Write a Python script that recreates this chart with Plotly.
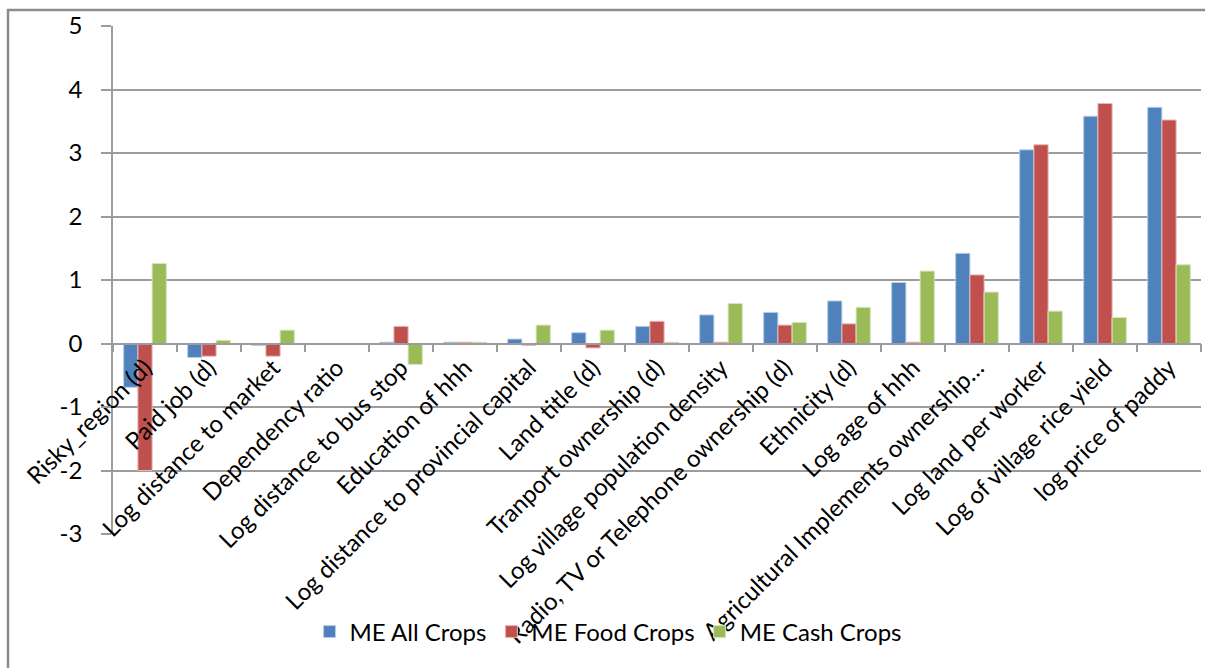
import plotly.graph_objects as go

# Marginal effects by household / village variable
categories = [
    "Risky_region (d)",
    "Paid job (d)",
    "Log distance to market",
    "Dependency ratio",
    "Log distance to bus stop",
    "Education of hhh",
    "Log distance to provincial capital",
    "Land title (d)",
    "Tranport ownership (d)",
    "Log village population density",
    "Radio, TV or Telephone ownership (d)",
    "Ethnicity (d)",
    "Log age of hhh",
    "Agricultural Implements ownership…",
    "Log land per worker",
    "Log of village rice yield",
    "log price of paddy",
]

me_all_crops = [-0.69, -0.22, -0.03, 0.0, 0.02, 0.02, 0.07, 0.17, 0.27, 0.45,
                0.49, 0.67, 0.96, 1.42, 3.05, 3.58, 3.72]
me_food_crops = [-2.0, -0.20, -0.20, 0.0, 0.27, 0.02, -0.03, -0.07, 0.35, 0.02,
                 0.29, 0.31, 0.02, 1.08, 3.13, 3.78, 3.52]
me_cash_crops = [1.26, 0.05, 0.21, 0.0, -0.33, 0.02, 0.29, 0.21, 0.02, 0.63,
                 0.33, 0.57, 1.14, 0.81, 0.51, 0.41, 1.24]

series_names = ["ME All Crops", "ME Food Crops", "ME Cash Crops"]
series_values = [me_all_crops, me_food_crops, me_cash_crops]
series_colors = ["#4F81BD", "#C0504D", "#9BBB59"]
line_colors = ["#B9CDE5", "#E6B9B8", "#D7E4BD"]

y_ticks = [-3, -2, -1, 0, 1, 2, 3, 4, 5]
y_tick_text = ["-3", "-2", "-1", "0", "1", "2", "3", "4", "5"]

FONT = "Lato, 'Open Sans', sans-serif"
GRID = "#9C9C9C"

fig = go.Figure()
for name, vals, col, lcol in zip(series_names, series_values, series_colors, line_colors):
    fig.add_trace(go.Bar(
        x=categories, y=vals, name=name,
        marker=dict(color=col, line=dict(color=lcol, width=1)),
    ))

W, H = 1205, 668
L, R, T, B = 113, 4, 26, 134
plot_h = H - T - B

fig.update_layout(
    width=W, height=H,
    margin=dict(l=L, r=R, t=T, b=B, autoexpand=False),
    paper_bgcolor="white", plot_bgcolor="white",
    barmode="group", bargap=0.333, bargroupgap=0,
    font=dict(family=FONT, size=24, color="#000000"),
    showlegend=True,
    legend=dict(
        orientation="h", x=0.455, xanchor="center",
        y=(T + plot_h - 632) / plot_h, yanchor="middle",
        bgcolor="rgba(0,0,0,0)", font=dict(size=24),
        itemwidth=30, traceorder="normal",
    ),
)

# the category axis sits on the zero line of the value axis
zero_pos = (0 - y_ticks[0]) / (y_ticks[-1] - y_ticks[0])
fig.update_xaxes(
    type="category", anchor="free", position=zero_pos,
    showline=True, linecolor=GRID, linewidth=1.5,
    ticks="outside", ticklen=8, tickcolor=GRID, tickwidth=1.5,
    tickson="boundaries", tickangle=-45,
    showgrid=False, automargin=False,
    tickfont=dict(family=FONT, size=24),
)
fig.update_yaxes(
    range=[y_ticks[0], y_ticks[-1]], tickvals=y_ticks, ticktext=y_tick_text,
    showline=True, linecolor=GRID, linewidth=1.5,
    ticks="outside", ticklen=10, tickcolor=GRID, tickwidth=1.5,
    ticklabelstandoff=14,
    showgrid=True, gridcolor=GRID, gridwidth=1.5,
    zeroline=False, automargin=False,
    tickfont=dict(family=FONT, size=24),
)

# outer chart frame
fig.add_shape(
    type="rect", xref="paper", yref="paper",
    x0=(8 - L) / (W - L - R), x1=(W + 20 - L) / (W - L - R),
    y0=(T + plot_h - (H + 20)) / plot_h, y1=(T + plot_h - 10) / plot_h,
    line=dict(color="#8C8C8C", width=2.5), fillcolor="rgba(0,0,0,0)",
    layer="below",
)

fig.write_html("out.html")
